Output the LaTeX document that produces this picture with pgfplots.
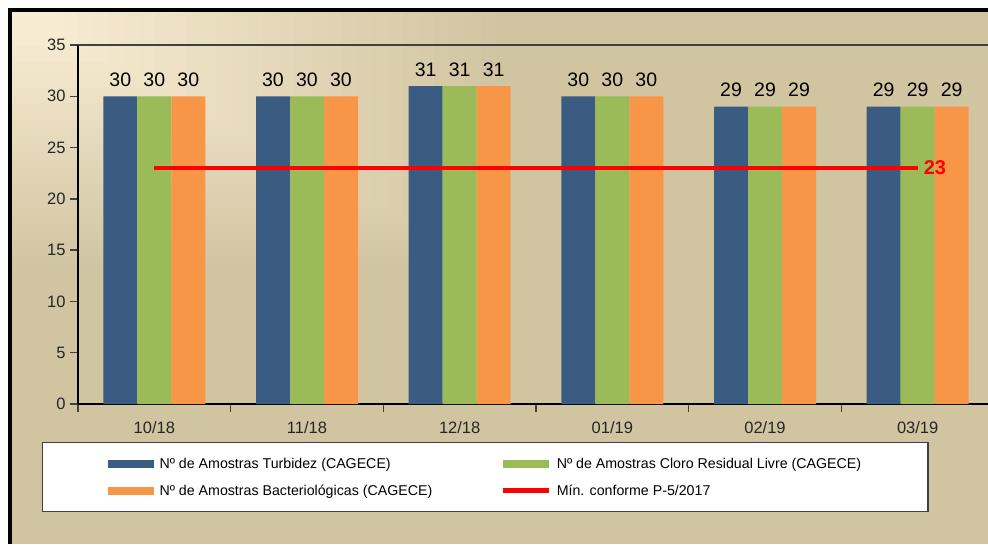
\documentclass[border=0pt]{standalone}
\usepackage{fontspec}
\setmainfont{Liberation Sans}
\usepackage{pgfplots}
\pgfplotsset{compat=1.18}

\definecolor{bgtan}{HTML}{D1C4A1}
\definecolor{bgcream}{HTML}{F7EBD2}
\definecolor{cblue}{HTML}{3A5B82}
\definecolor{cgreen}{HTML}{9BBB59}
\definecolor{corange}{HTML}{F79646}

\begin{document}
\begin{tikzpicture}[x=1pt,y=1pt]
\path[use as bounding box, clip] (0,0) rectangle (988,544);
\fill[white] (0,0) rectangle (988,544);
\fill[bgtan] (9.8,0) rectangle (988,534.2);
% lighter corner, top left
\foreach \i in {0,...,29}{
  \pgfmathsetmacro{\f}{\i/29}
  \pgfmathsetmacro{\p}{100*\f}
  \fill[bgcream!\p!bgtan] (11.7,532.3) rectangle ({11.7+500*(1-0.9*\f)},{532.3-262*(1-0.9*\f)});
}
\draw[black, line width=3.6pt] (9.8,0) -- (9.8,534.2) -- (988,534.2);

\begin{axis}[
  at={(78pt,140pt)}, anchor=south west,
  scale only axis, width=916pt, height=359pt,
  xmin=-0.5, xmax=5.5, ymin=0, ymax=35,
  axis x line*=bottom, axis y line*=left,
  axis line style={black, line width=1.3pt, -},
  ytick={0,5,...,35},
  xtick={-0.5,0.5,...,5.5}, xticklabels={,,,,,,},
  extra x ticks={0,...,5},
  extra x tick labels={10/18,11/18,12/18,01/19,02/19,03/19},
  extra x tick style={major tick length=0pt,
    tick label style={font=\fontsize{16.5}{18}\selectfont, text=black!85, yshift=-14pt}},
  tick align=outside, major tick length=8pt,
  tick style={black!75, line width=1.3pt},
  yticklabel style={font=\fontsize{16.5}{18}\selectfont, text=black!85, xshift=-1pt},
  /pgf/number format/assume math mode=true,
  nodes near coords style={font=\fontsize{19.5}{21}\selectfont, text=black,
    anchor=south, inner sep=0pt, yshift=9.5pt},
  legend columns=2,
  legend cell align=left,
  legend style={at={(-0.0393,-0.1058)}, anchor=north west,
    draw=black!75, line width=1.2pt, fill=white,
    inner xsep=65pt, inner ysep=12pt, row sep=9pt,
    font=\fontsize{14.2}{16}\selectfont,
    nodes={inner sep=2pt, text height=12pt, text depth=2pt},
    /tikz/every even column/.append style={column sep=66pt},
    /tikz/every odd column/.append style={column sep=4pt}},
]
\addplot[ybar, bar width=34pt, bar shift=-34pt, fill=cblue, draw=none, nodes near coords,
  every node near coord/.append style={xshift=-34pt},
  legend image code/.code={\fill[cblue] (0pt,-4pt) rectangle (46pt,4pt);}]
  coordinates {(0,30) (1,30) (2,31) (3,30) (4,29) (5,29)};
\addlegendentry{Nº de Amostras Turbidez (CAGECE)}
\addplot[ybar, bar width=34pt, bar shift=0pt, fill=cgreen, draw=none, nodes near coords,
  legend image code/.code={\fill[cgreen] (0pt,-4pt) rectangle (46pt,4pt);}]
  coordinates {(0,30) (1,30) (2,31) (3,30) (4,29) (5,29)};
\addlegendentry{Nº de Amostras Cloro Residual Livre (CAGECE)}
\addplot[ybar, bar width=34pt, bar shift=34pt, fill=corange, draw=none, nodes near coords,
  every node near coord/.append style={xshift=34pt},
  legend image code/.code={\fill[corange] (0pt,-4pt) rectangle (46pt,4pt);}]
  coordinates {(0,30) (1,30) (2,31) (3,30) (4,29) (5,29)};
\addlegendentry{Nº de Amostras Bacteriológicas (CAGECE)}
\addplot[red, line width=4.5pt, mark=none,
  legend image code/.code={\draw[red, line width=4.5pt] (0pt,0pt) -- (46pt,0pt);}]
  coordinates {(0,23) (5,23)};
\addlegendentry{Mín. conforme P-5/2017}
\draw[black!75, line width=1.5pt] (rel axis cs:0,1) -- (rel axis cs:1,1);
\node[anchor=west, text=red, font=\bfseries\fontsize{20}{22}\selectfont, inner sep=0pt, xshift=6pt]
  at (axis cs:5,23) {23};
\end{axis}
\end{tikzpicture}
\end{document}
